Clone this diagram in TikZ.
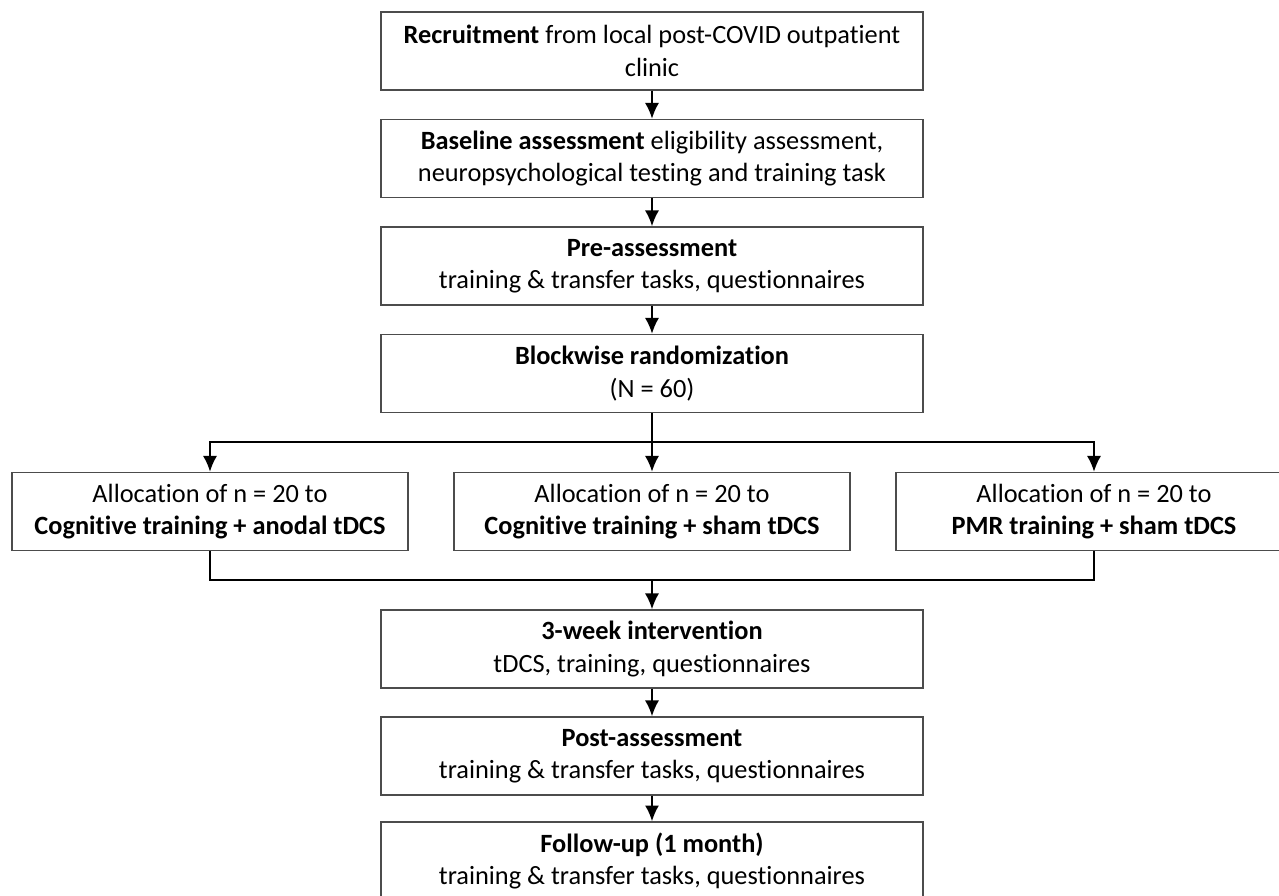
\documentclass[tikz,border=0pt]{standalone}
\usepackage{fontspec}
\setmainfont{Carlito}[Ligatures=NoCommon]
\usetikzlibrary{arrows.meta}

\begin{document}
\begin{tikzpicture}[x=0.02cm,y=-0.02cm,
  box/.style={draw=black!70,line width=0.8pt,minimum width=10.84cm,minimum height=1.56cm,
    align=center,inner sep=2pt,font=\fontsize{15}{18.5}\selectfont},
  allocbox/.style={box,minimum width=7.92cm},
  link/.style={line width=1.1pt},
  arr/.style={link,-{Latex[length=9pt,width=8pt]}}]
\clip (0,0) rectangle (1279,896);
\node[box] (rec) at (652,51) {\textbf{Recruitment} from local post-COVID outpatient\\clinic};
\node[box] (base) at (652,158.5) {\textbf{Baseline assessment} eligibility assessment,\\neuropsychological testing and training task};
\node[box] (pre) at (652,266) {\textbf{Pre-assessment}\\training \& transfer tasks, questionnaires};
\node[box] (rand) at (652,373.5) {\textbf{Blockwise randomization}\\(N = 60)};
\node[allocbox] (al1) at (210,511.5) {Allocation of n = 20 to\\\textbf{Cognitive training + anodal tDCS}};
\node[allocbox] (al2) at (652,511.5) {Allocation of n = 20 to\\\textbf{Cognitive training + sham tDCS}};
\node[allocbox] (al3) at (1094,511.5) {Allocation of n = 20 to\\\textbf{PMR training + sham tDCS}};
\node[box] (inter) at (652,649) {\textbf{3-week intervention}\\tDCS, training, questionnaires};
\node[box] (post) at (652,756) {\textbf{Post-assessment}\\training \& transfer tasks, questionnaires};
\node[box] (fol) at (652,861) {\textbf{Follow-up (1 month)}\\training \& transfer tasks, questionnaires};
\coordinate (split) at (652,442);
\coordinate (join) at (652,580);

\draw[arr] (rec) -- (base);
\draw[arr] (base) -- (pre);
\draw[arr] (pre) -- (rand);
\draw[link] (rand) -- (split);
\draw[arr] (split) -| (al1);
\draw[arr] (split) -- (al2);
\draw[arr] (split) -| (al3);
\draw[link] (al1) |- (join) -| (al3);
\draw[arr] (join) -- (inter);
\draw[arr] (inter) -- (post);
\draw[arr] (post) -- (fol);
\end{tikzpicture}
\end{document}
